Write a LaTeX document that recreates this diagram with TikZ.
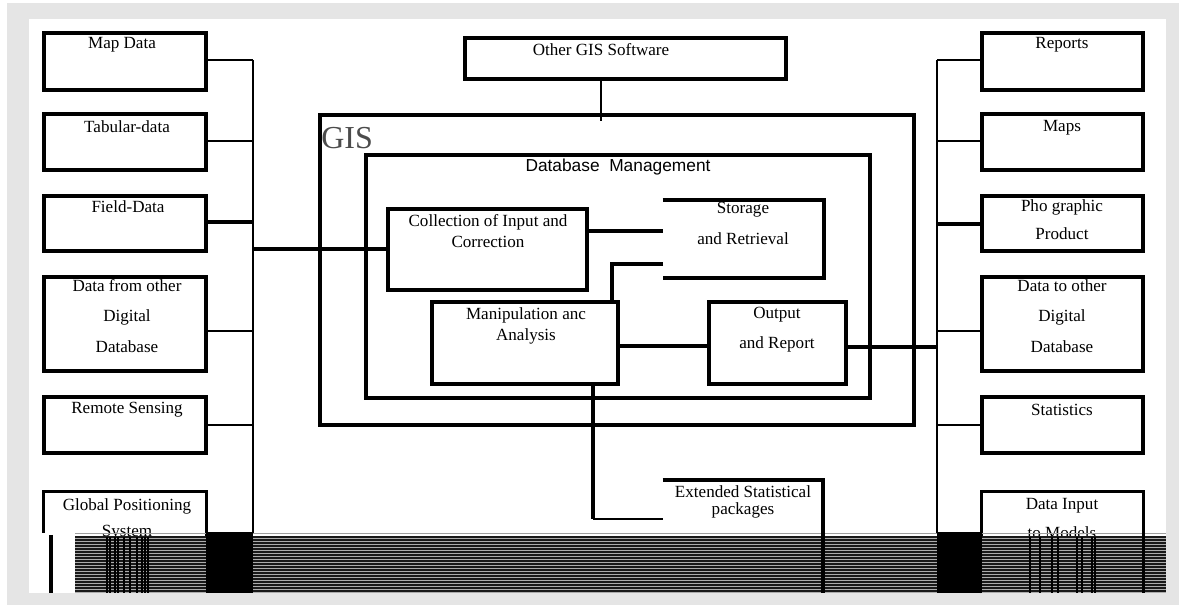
\documentclass[tikz,border=0pt]{standalone}
\usepackage{fontspec}
\setmainfont{Liberation Serif}
\newfontfamily\arialf{Liberation Sans}
\usetikzlibrary{fit}
\begin{document}
\begin{tikzpicture}[x=0.75pt,y=-0.75pt,
  boxn/.style={draw, line width=2.6pt, inner sep=0pt},
  hid/.style={inner sep=0pt},
  thinc/.style={line width=1.3pt},
  thickc/.style={line width=2.8pt},
  bus/.style={line width=1.5pt},
  lbl/.style={inner sep=0pt, font=\fontsize{12.8}{14}\selectfont},
  stripe/.style={line width=1.5pt, black!90}]
\useasboundingbox (0,0) rectangle (1179,605);
\fill[white] (0,0) rectangle (1179,605);
\fill[gray!20] (7,3) rectangle (1179,605);
\fill[white] (29,19) rectangle (1166,593);

% left boxes
\node[boxn, fit={(44,33) (206,90)}] (mapd) {};
\node[boxn, fit={(44,114) (206,170)}] (tab) {};
\node[boxn, fit={(44,196) (206,251)}] (field) {};
\node[boxn, fit={(44,277) (206,371)}] (dfo) {};
\node[boxn, fit={(44,397) (206,453)}] (rs) {};
\node[hid, fit={(44,492) (206,593)}] (gps) {};
\draw[line width=2.6pt] (gps.south west |- 0,533) -- (gps.north west) -- (gps.north east) -- (gps.south east);
% right boxes
\node[boxn, fit={(982,33) (1143,90)}] (rep) {};
\node[boxn, fit={(982,114) (1143,170)}] (maps) {};
\node[boxn, fit={(982,196) (1143,251)}] (photo) {};
\node[boxn, fit={(982,277) (1143,371)}] (dto) {};
\node[boxn, fit={(982,397) (1143,453)}] (stat) {};
\node[hid, fit={(982,492) (1143,593)}] (dim) {};
\draw[line width=2.6pt] (dim.south west) -- (dim.north west) -- (dim.north east) -- (dim.south east);
% centre
\node[boxn, fit={(465,38) (786,79)}] (ogs) {};
\node[boxn, line width=3pt, fit={(320,115) (914,425)}] (gis) {};
\node[boxn, line width=3pt, fit={(366,155) (870,398)}] (dbm) {};
\node[boxn, fit={(388,209) (587,290)}] (coll) {};
\node[hid, fit={(663,200) (824,278)}] (stor) {};
\draw[line width=2.8pt] (stor.north west) -- (stor.north east) -- (stor.south east) -- (stor.south west);
\node[boxn, fit={(432,302) (618,384)}] (manip) {};
\node[boxn, fit={(709,302) (846,384)}] (outp) {};
\node[hid, fit={(663,480) (823,593)}] (ext) {};
\draw[line width=2.8pt] (ext.north west) -- (ext.north east) -- (ext.south east);

% texts
\node[lbl] (t1) at (122,45) {Map Data};
\node[lbl] (t2) at (127,127) {Tabular-data};
\node[lbl] (t3) at (128,207) {Field-Data};
\node[lbl] (t4a) at (127,286) {Data from other};
\node[lbl] (t4b) at (127,317) {Digital};
\node[lbl] (t4c) at (127,347) {Database};
\node[lbl] (t5) at (127,410) {Remote Sensing};
\node[lbl] (t6a) at (127,506) {Global Positioning};
\node[lbl] (t6b) at (127,533) {System};
\node[lbl] (r1) at (1062,45) {Reports};
\node[lbl] (r2) at (1062,128) {Maps};
\node[lbl] (r3a) at (1062,207) {Pho graphic};
\node[lbl] (r3b) at (1062,234) {Product};
\node[lbl] (r4a) at (1062,286) {Data to other};
\node[lbl] (r4b) at (1062,317) {Digital};
\node[lbl] (r4c) at (1062,347) {Database};
\node[lbl] (r5) at (1062,410) {Statistics};
\node[lbl] (r6a) at (1062,506) {Data Input};
\node[lbl] (r6b) at (1062,533) {to Models};
\node[lbl] (c1) at (601,50) {Other GIS Software};
\node[inner sep=0pt, text=black!70, font=\fontsize{24}{26}\selectfont, anchor=west] (gisT) at (321,138) {GIS};
\node[inner sep=0pt, font=\arialf\fontsize{13}{15}\selectfont] (dbT) at (618,167) {Database\ \ Management};
\node[lbl] (c2a) at (488,222) {Collection of Input and};
\node[lbl] (c2b) at (488,242) {Correction};
\node[lbl] (c3a) at (743,210) {Storage};
\node[lbl] (c3b) at (743,239) {and Retrieval};
\node[lbl] (c4a) at (526,315) {Manipulation anc};
\node[lbl] (c4b) at (526,336) {Analysis};
\node[lbl] (c5a) at (777,315) {Output};
\node[lbl] (c5b) at (777,344) {and Report};
\node[lbl] (c6a) at (743,492) {Extended Statistical};
\node[lbl] (c6b) at (743,510) {packages};

% left bus
\coordinate (l1) at (253,60);
\coordinate (l2) at (253,141);
\coordinate (l3) at (253,222);
\coordinate (l4) at (253,331);
\coordinate (l5) at (253,425);
\coordinate (lB) at (253,533);
\coordinate (lm) at (253,249);
\draw[bus] (l1) -- (lB);
\draw[thinc] (mapd.east |- l1) -- (l1);
\draw[thinc] (tab.east |- l2) -- (l2);
\draw[thickc] (field.east |- l3) -- (l3);
\draw[thinc] (dfo.east |- l4) -- (l4);
\draw[thinc] (rs.east |- l5) -- (l5);
\draw[thickc] (lm) -- (coll.west |- lm);
% right bus
\coordinate (q1) at (937,60);
\coordinate (q2) at (937,141);
\coordinate (q3) at (937,224);
\coordinate (q4) at (937,331);
\coordinate (q5) at (937,425);
\coordinate (qB) at (937,533);
\coordinate (qm) at (937,347);
\draw[bus] (q1) -- (qB);
\draw[thinc] (rep.west |- q1) -- (q1);
\draw[thinc] (maps.west |- q2) -- (q2);
\draw[thickc] (photo.west |- q3) -- (q3);
\draw[thinc] (dto.west |- q4) -- (q4);
\draw[thinc] (stat.west |- q5) -- (q5);
\draw[thickc] (outp.east |- qm) -- (qm);
% centre connectors
\coordinate (oj) at (601,121);
\draw[thinc] (ogs.south -| oj) -- (oj);
\coordinate (sj1) at (663,231);
\draw[thickc] (coll.east |- sj1) -- (sj1);
\coordinate (sj2) at (663,264);
\coordinate (mj) at (612,264);
\draw[thickc] (sj2) -- (mj) -- (manip.north -| mj);
\coordinate (om) at (700,346);
\draw[thickc] (manip.east |- om) -- (outp.west |- om);
\coordinate (ej) at (593,519);
\coordinate (ej2) at (663,519);
\draw[thickc] (manip.south -| ej) -- (ej);
\draw[line width=2pt] (ej) -- (ej2);

% bottom striped band (rendering artefact)
\draw[line width=1pt, gray!75] (75,533.5) -- (1166,533.5);
\fill[gray!65] (75,536) rectangle (1166,593);
\foreach \yy in {537.5,540.5,...,592} \draw[stripe] (75,\yy) -- (1166,\yy);
\foreach \xx in {107,110,115,118,124,130,137,142,145,148}
  \draw[line width=1pt] (\xx,537) -- (\xx,593);
\foreach \xx in {1030,1040,1052,1058,1077,1082,1092,1095}
  \draw[line width=1pt] (\xx,537) -- (\xx,593);
\draw[line width=2.6pt] (51,535) -- (51,593);
\draw[line width=2.8pt] (ext.north east) -- (ext.south east);
\draw[line width=2.6pt] (dim.north east) -- (dim.south east);
\fill (206,532) rectangle (253,593);
\fill (937,532) rectangle (982,593);
\end{tikzpicture}
\end{document}
